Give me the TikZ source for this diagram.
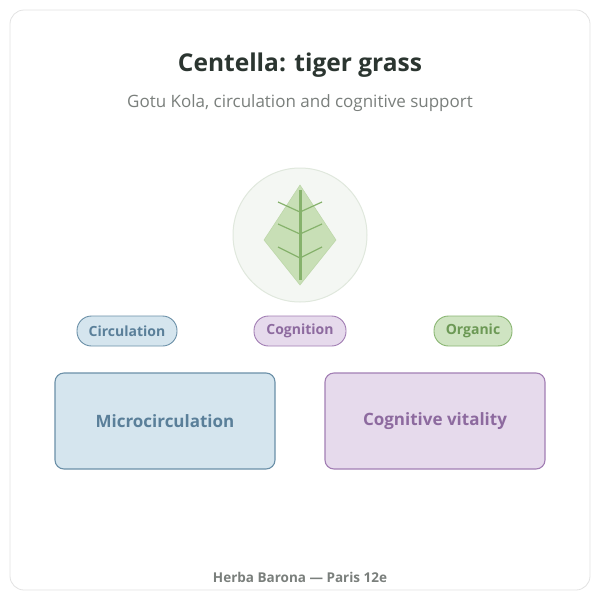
\documentclass[tikz,border=0pt]{standalone}
\usepackage{fontspec}
\setmainfont{Open Sans}
\usetikzlibrary{positioning}
\definecolor{CardLine}{HTML}{E2E2E2}
\definecolor{InkDark}{HTML}{2B3530}
\definecolor{InkGray}{HTML}{7A7F7C}
\definecolor{BlueFill}{HTML}{D5E5EE}
\definecolor{BlueLine}{HTML}{6B90A8}
\definecolor{BlueInk}{HTML}{5A7F99}
\definecolor{PurpFill}{HTML}{E6DAEC}
\definecolor{PurpLine}{HTML}{A27EB4}
\definecolor{PurpInk}{HTML}{8D6A9F}
\definecolor{GreenFill}{HTML}{CFE4C2}
\definecolor{GreenLine}{HTML}{8AB673}
\definecolor{GreenInk}{HTML}{6C9955}
\definecolor{LeafFill}{HTML}{C8DFB6}
\definecolor{LeafVein}{HTML}{86B26C}
\definecolor{HaloFill}{HTML}{F4F7F3}
\definecolor{HaloLine}{HTML}{E0E8DD}
\tikzset{
    pill/.style={rounded corners=14.5pt, line width=0.9pt, minimum height=30pt,
                 inner sep=0pt, font=\fontsize{14}{16}\selectfont\bfseries},
    card/.style={rounded corners=9pt, line width=1.1pt, minimum width=220pt,
                 minimum height=96pt, font=\fontsize{17}{20}\selectfont\bfseries},
    vein/.style={LeafVein, line width=1.2pt}
}
\begin{document}
\begin{tikzpicture}[x=1pt, y=-1pt]
    % Background card
    \useasboundingbox (0,0) rectangle (600,600);
    \draw[CardLine, fill=white, rounded corners=14pt, line width=0.8pt]
        (10,10) rectangle (590,590);

    % Headings
    \node[text=InkDark, font=\fontsize{24.5}{28}\selectfont\bfseries] (title) at (300,65)
        {Centella: tiger grass};
    \node[text=InkGray, font=\fontsize{17}{20}\selectfont] (subtitle) at (300,103)
        {Gotu Kola, circulation and cognitive support};

    % Leaf emblem
    \node[circle, draw=HaloLine, fill=HaloFill, line width=1pt, minimum size=134pt]
        (halo) at (300,235) {};
    \fill[LeafFill, draw=LeafFill!80!LeafVein, line width=0.5pt]
        (300,185) -- (336,240) -- (300,285) -- (264,240) -- cycle;
    \draw[LeafVein, line width=3pt] (300,190) -- (300,280);
    \foreach \y/\t in {202/212, 224/234, 247/258} {
        \draw[vein] (278,\y) -- (300,\t) -- (322,\y);
    }

    % Tags
    \node[pill, draw=BlueLine, fill=BlueFill, text=BlueInk, minimum width=100pt]
        (circ) at (127,331) {Circulation};
    \node[pill, draw=PurpLine, fill=PurpFill, text=PurpInk, minimum width=92pt]
        (cogn) at (300,331) {Cognition};
    \node[pill, draw=GreenLine, fill=GreenFill, text=GreenInk, minimum width=78pt]
        (orga) at (473,331) {Organic};

    % Main cards
    \node[card, draw=BlueLine, fill=BlueFill, text=BlueInk] (micro) at (165,421)
        {Microcirculation};
    \node[card, draw=PurpLine, fill=PurpFill, text=PurpInk] (vital) at (435,421)
        {Cognitive vitality};

    % Footer
    \node[text=InkGray, font=\fontsize{13.5}{16}\selectfont\bfseries] (footer) at (300,577)
        {Herba Barona — Paris 12e};
\end{tikzpicture}
\end{document}
